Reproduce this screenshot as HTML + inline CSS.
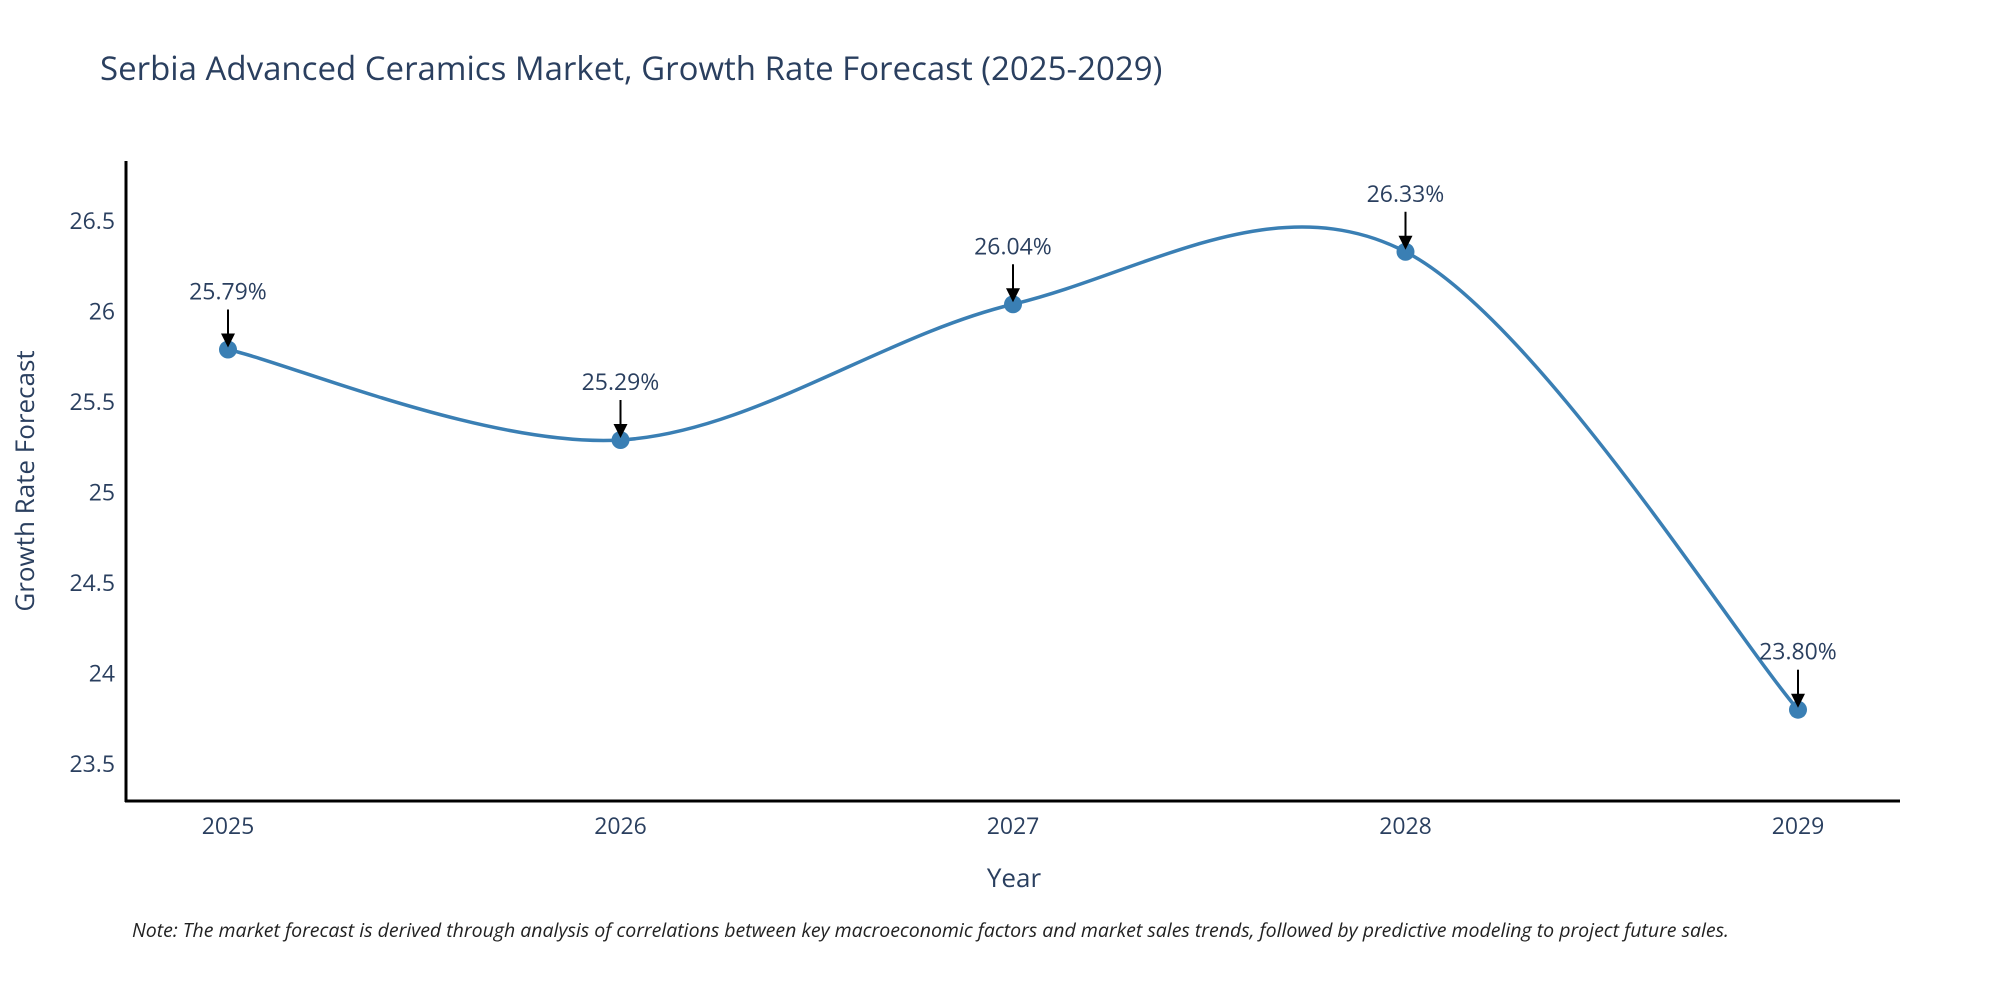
<!DOCTYPE html>
<html><head><meta charset="utf-8"><style>
body{margin:0;background:#fff}
svg{display:block;font-family:"Open Sans","Liberation Sans",sans-serif}
</style></head><body>
<svg id="chart" width="2000" height="1000" viewBox="0 0 2000 1000">
<text x="100" y="80" font-size="33" fill="#2a3f5f">Serbia Advanced Ceramics Market, Growth Rate Forecast (2025-2029)</text>
<g id="yticks"></g>
<g id="xticks"></g>
<line x1="126" y1="161" x2="126" y2="802" stroke="#000" stroke-width="3"/>
<line x1="125" y1="801" x2="1900" y2="801" stroke="#000" stroke-width="3"/>
<path id="line" fill="none" stroke="#3a7fb4" stroke-width="3.5"/>
<g id="points"></g>
<g id="annots"></g>
<text x="1014" y="887" font-size="26" fill="#2a3f5f" text-anchor="middle">Year</text>
<text transform="translate(34,481) rotate(-90)" font-size="26" fill="#2a3f5f" text-anchor="middle">Growth Rate Forecast</text>
<text x="132" y="937" font-size="19.5" font-style="italic" fill="#222">Note: The market forecast is derived through analysis of correlations between key macroeconomic factors and market sales trends, followed by predictive modeling to project future sales.</text>
</svg>
<script>
const years=[2025,2026,2027,2028,2029];
const values=[25.79,25.29,26.04,26.33,23.80];
const labels=["25.79%","25.29%","26.04%","26.33%","23.80%"];
const yTicks=[23.5,24,24.5,25,25.5,26,26.5];
const yTickLabels=["23.5","24","24.5","25","25.5","26","26.5"];
const NS="http://www.w3.org/2000/svg";
function X(yr){return 228+(yr-2025)*392.5;}
function Y(v){return 764-(v-23.5)*181;}
function mk(tag,attrs,parent){const e=document.createElementNS(NS,tag);for(const k in attrs)e.setAttribute(k,attrs[k]);parent.appendChild(e);return e;}
const yt=document.getElementById('yticks');
yTicks.forEach((t,i)=>{const e=mk('text',{x:115,y:Y(t)+8,'font-size':23,fill:'#2a3f5f','text-anchor':'end'},yt);


e.textContent=yTickLabels[i];});
const xt=document.getElementById('xticks');
years.forEach(y=>{const e=mk('text',{x:X(y),y:834,'font-size':23,fill:'#2a3f5f','text-anchor':'middle'},xt);


e.textContent=y;});
const P=years.map((y,i)=>[X(y),Y(values[i])]);
let d='M'+P[0][0]+','+P[0][1];
const s=1/6*1.0;
for(let i=0;i<P.length-1;i++){const p0=P[Math.max(i-1,0)],p1=P[i],p2=P[i+1],p3=P[Math.min(i+2,P.length-1)];
const c1=[p1[0]+(p2[0]-p0[0])*s,p1[1]+(p2[1]-p0[1])*s];
const c2=[p2[0]-(p3[0]-p1[0])*s,p2[1]-(p3[1]-p1[1])*s];
d+=' C'+c1+' '+c2+' '+p2;}
document.getElementById('line').setAttribute('d',d);
const pts=document.getElementById('points'),an=document.getElementById('annots');
P.forEach((p,i)=>{const c=mk('circle',{cx:p[0],cy:p[1],r:9,fill:'#3a7fb4'},pts);


const l=mk('line',{x1:p[0],y1:p[1]-40,x2:p[0],y2:p[1]-14,stroke:'#000','stroke-width':2},an);


const h=mk('polygon',{points:(p[0]-7)+','+(p[1]-16)+' '+(p[0]+7)+','+(p[1]-16)+' '+p[0]+','+(p[1]-2),fill:'#000'},an);


const t=mk('text',{x:p[0],y:p[1]-50,'font-size':23,fill:'#2a3f5f','text-anchor':'middle'},an);


t.textContent=labels[i];});
</script>
</body></html>
